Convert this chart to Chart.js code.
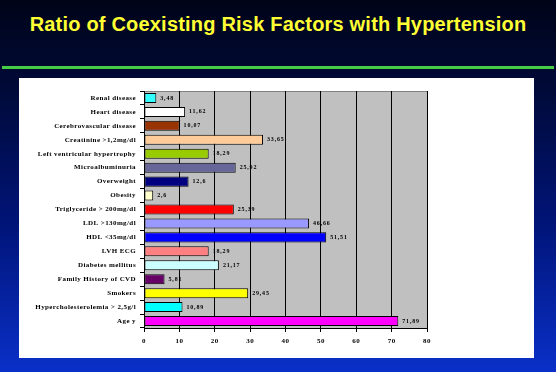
<!DOCTYPE html>
<html>
<head>
<meta charset="utf-8">
<script src="https://cdn.jsdelivr.net/npm/chart.js@4/dist/chart.umd.min.js"></script>
<style>
    html, body { margin: 0; padding: 0; }
    body {
        width: 556px; height: 372px; overflow: hidden; position: relative;
        background: linear-gradient(to bottom, #000418 0%, #000a3a 25%, #001478 60%, #0a30c8 100%);
        font-family: "Liberation Sans", Arial, sans-serif;
    }
    #title {
        position: absolute; left: 0; top: 13px; width: 556px; text-align: center;
        color: #ffff33; font-weight: bold; font-size: 20px; letter-spacing: 0.2px;
    }
    #rule { position: absolute; left: 2px; top: 66px; width: 552px; height: 3px; background: #44cc44; }
    #panel { position: absolute; left: 19px; top: 78px; width: 515px; height: 280px; background: #fff; }
    #chart { position: absolute; left: 0; top: 0; }
</style>
</head>
<body>
<div id="title">Ratio of Coexisting Risk Factors with Hypertension</div>
<div id="rule"></div>
<div id="panel"></div>
<canvas id="chart" width="556" height="372"></canvas>
<script>
const categories = [
    'Renal disease', 'Heart disease', 'Cerebrovascular disease', 'Creatinine >1,2mg/dl',
    'Left ventricular hypertrophy', 'Microalbuminuria', 'Overweight', 'Obesity',
    'Triglyceride > 200mg/dl', 'LDL >130mg/dl', 'HDL <35mg/dl', 'LVH ECG',
    'Diabetes mellitus', 'Family History of CVD', 'Smokers', 'Hypercholesterolemia > 2,5g/l', 'Age y'
];
const values = [3.48, 11.62, 10.07, 33.65, 18.29, 25.92, 12.6, 2.6, 25.39, 46.66, 51.51, 18.29, 21.17, 5.81, 29.45, 10.89, 71.89];
const barColors = [
    '#33ffff', '#ffffff', '#993300', '#ffcc99', '#99cc00', '#666699', '#000080', '#ffffcc',
    '#ff0000', '#9999ff', '#0000ff', '#ff8080', '#ccffff', '#660066', '#ffff00', '#00ffff', '#ff00ff'
];
const xTicks = [0, 10, 20, 30, 40, 50, 60, 70, 80];

const smallFont = { family: '"Liberation Serif", "DejaVu Serif", serif', size: 7, weight: 'bold' };

// gray plot background, then a little letter spacing for the small texts
const plotBg = {
    id: 'plotBg',
    beforeDraw(chart) {
        const { ctx, chartArea: a } = chart;
        ctx.save();
        ctx.fillStyle = '#c0c0c0';
        ctx.fillRect(a.left, a.top, a.right - a.left, a.bottom - a.top);
        ctx.strokeStyle = '#808080';
        ctx.strokeRect(a.left + 0.5, a.top + 0.5, a.right - a.left, a.bottom - a.top);
        ctx.restore();
        ctx.letterSpacing = '0.4px';
    }
};

// value labels at the end of each bar
const barLabels = {
    id: 'barLabels',
    afterDatasetsDraw(chart) {
        const { ctx } = chart;
        const meta = chart.getDatasetMeta(0);
        ctx.save();
        ctx.font = 'bold 6px "Liberation Serif", serif';
        ctx.fillStyle = '#000';
        ctx.textBaseline = 'middle';
        ctx.letterSpacing = '0.8px';
        meta.data.forEach((bar, i) => {
            ctx.fillText(String(values[i]).replace('.', ','), bar.x + 4, bar.y);
        });
        ctx.restore();
    }
};

new Chart(document.getElementById('chart'), {
    type: 'bar',
    data: {
        labels: categories,
        datasets: [{
            data: values,
            backgroundColor: barColors,
            borderColor: '#000',
            borderWidth: 1,
            borderSkipped: false,
            barPercentage: 0.72,
            categoryPercentage: 1
        }]
    },
    options: {
        indexAxis: 'y',
        responsive: false,
        animation: false,
        layout: { padding: { left: 0, right: 129, top: 91, bottom: 24 } },
        plugins: { legend: { display: false }, tooltip: { enabled: false } },
        scales: {
            x: {
                min: 0, max: 80,
                afterBuildTicks(scale) { scale.ticks = xTicks.map(v => ({ value: v })); },
                afterFit(scale) { scale.height = 20; },
                grid: { color: '#000', lineWidth: 1, tickLength: 4, drawTicks: true },
                border: { color: '#000' },
                ticks: { color: '#000', font: smallFont, padding: 5 }
            },
            y: {
                afterFit(scale) { scale.width = 144; },
                grid: { drawOnChartArea: false, drawTicks: true, tickLength: 4, color: '#000', offset: true },
                border: { color: '#000' },
                ticks: { color: '#000', font: smallFont, padding: 4, autoSkip: false }
            }
        }
    },
    plugins: [plotBg, barLabels]
});
</script>
</body>
</html>
